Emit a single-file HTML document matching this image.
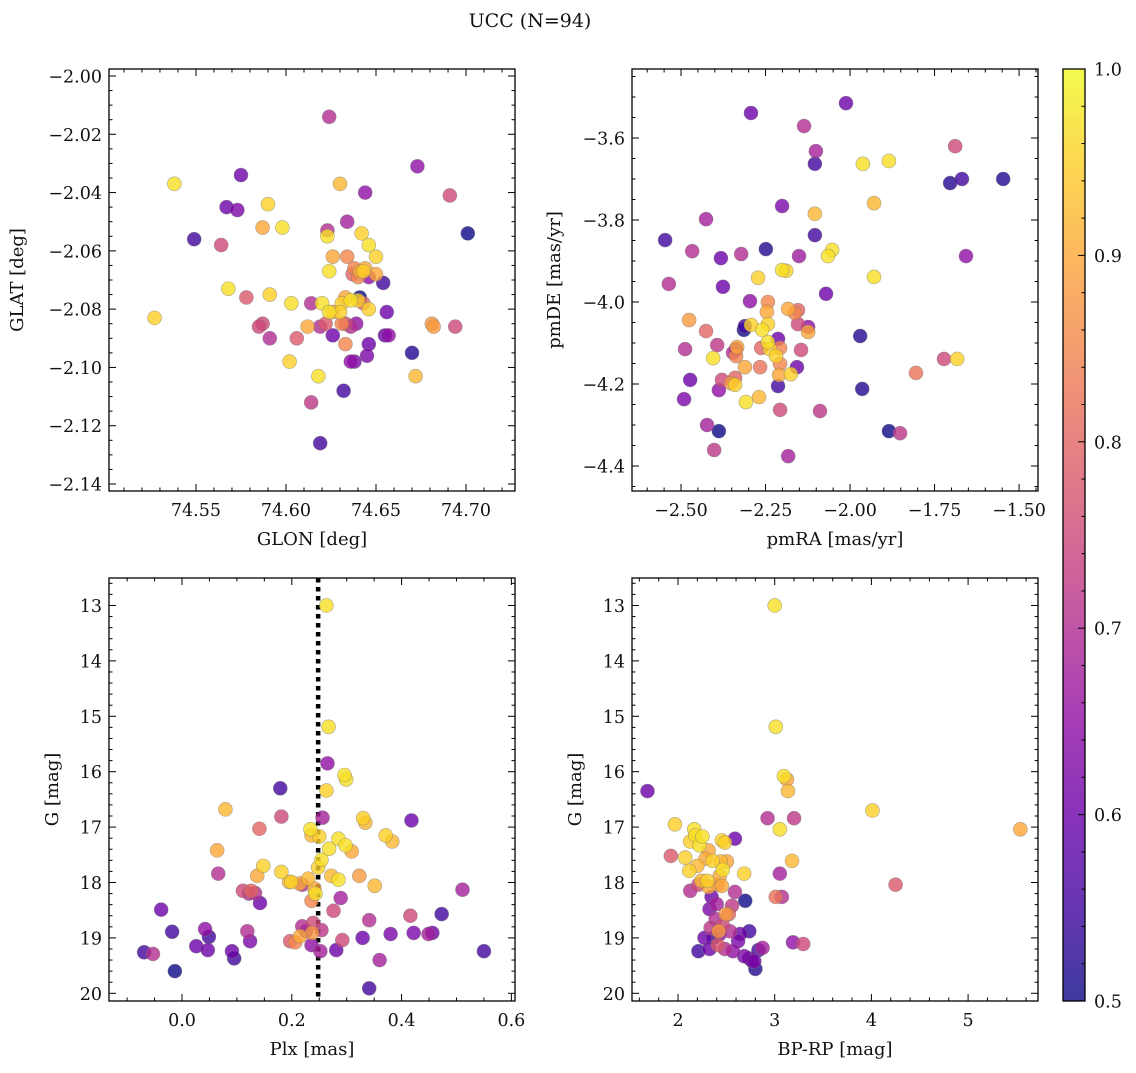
<!DOCTYPE html>
<html><head><meta charset="utf-8"><style>
html,body{margin:0;padding:0;background:#fff;}
svg text{font-family:"DejaVu Serif","Liberation Serif",serif;fill:#111;}
</style></head><body>
<svg id="fig" width="1136" height="1068" viewBox="0 0 1136 1068" xmlns="http://www.w3.org/2000/svg">
<text x="530" y="27" font-size="19" text-anchor="middle">UCC (N=94)</text>
</svg>
<script>
// ---- data ----
const tlGlon=[74.624,74.673,74.691,74.538,74.575,74.567,74.573,74.549,74.564,74.590,74.587,74.598,74.701,74.630,74.644,74.634,74.623,74.623,74.642,74.646,74.650,74.634,74.626,74.624,74.638,74.641,74.644,74.637,74.640,74.643,74.646,74.654,74.650,74.568,74.591,74.578,74.527,74.603,74.620,74.614,74.633,74.636,74.640,74.631,74.624,74.630,74.626,74.641,74.646,74.643,74.656,74.587,74.585,74.591,74.606,74.612,74.619,74.626,74.633,74.636,74.639,74.631,74.622,74.646,74.657,74.681,74.682,74.694,74.633,74.636,74.638,74.645,74.655,74.670,74.602,74.618,74.672,74.632,74.614,74.619];
const tlGlat=[-2.014,-2.031,-2.041,-2.037,-2.034,-2.045,-2.046,-2.056,-2.058,-2.044,-2.052,-2.052,-2.054,-2.037,-2.040,-2.050,-2.053,-2.055,-2.054,-2.058,-2.062,-2.062,-2.062,-2.067,-2.066,-2.067,-2.066,-2.068,-2.069,-2.067,-2.069,-2.071,-2.068,-2.073,-2.075,-2.076,-2.083,-2.078,-2.078,-2.078,-2.076,-2.077,-2.077,-2.078,-2.081,-2.081,-2.081,-2.076,-2.080,-2.078,-2.081,-2.085,-2.086,-2.090,-2.090,-2.086,-2.086,-2.089,-2.085,-2.086,-2.085,-2.085,-2.085,-2.092,-2.089,-2.085,-2.086,-2.086,-2.092,-2.098,-2.098,-2.096,-2.089,-2.095,-2.098,-2.103,-2.103,-2.108,-2.112,-2.126];
const tlProb=[.7,.65,.75,.97,.6,.6,.62,.55,.75,.95,.9,.97,.5,.92,.65,.68,.7,.97,.95,.97,.95,.85,.9,.97,.85,.9,.9,.8,.85,.95,.65,.55,.9,.97,.95,.78,.95,.97,.97,.7,.9,.97,.95,.95,.97,.95,.9,.5,.95,.8,.6,.75,.75,.7,.78,.9,.7,.6,.75,.7,.65,.85,.78,.6,.65,.88,.88,.75,.85,.65,.62,.62,.6,.52,.95,.97,.92,.55,.72,.55];

const trPmra=[-2.293,-2.012,-2.136,-2.101,-2.104,-1.689,-1.885,-1.962,-1.669,-1.704,-1.547,-1.929,-2.547,-2.426,-2.536,-2.467,-2.382,-2.249,-2.201,-2.151,-2.104,-2.104,-2.053,-2.065,-1.657,-1.929,-2.272,-2.189,-2.071,-2.322,-2.376,-2.296,-2.201,-2.243,-2.246,-2.311,-2.314,-2.293,-2.243,-2.260,-2.183,-2.163,-2.154,-2.154,-2.124,-2.213,-2.243,-2.237,-1.970,-2.426,-2.476,-2.393,-2.346,-2.337,-2.334,-2.405,-2.337,-2.263,-2.207,-2.124,-2.219,-2.145,-2.157,-2.207,-2.175,-2.210,-2.311,-2.266,-2.352,-2.340,-2.308,-2.340,-2.379,-2.269,-2.473,-2.491,-2.388,-2.213,-2.207,-2.089,-1.964,-1.722,-1.683,-1.805,-2.423,-2.388,-2.402,-2.183,-1.885,-1.852,-2.488];
const trPmde=[-3.539,-3.515,-3.571,-3.632,-3.663,-3.620,-3.656,-3.663,-3.700,-3.710,-3.700,-3.759,-3.849,-3.798,-3.956,-3.876,-3.893,-3.871,-3.766,-3.888,-3.837,-3.785,-3.873,-3.888,-3.888,-3.939,-3.941,-3.924,-3.980,-3.883,-3.963,-3.998,-3.922,-4.000,-4.024,-4.059,-4.068,-4.056,-4.054,-4.068,-4.017,-4.027,-4.020,-4.054,-4.061,-4.090,-4.098,-4.115,-4.083,-4.071,-4.044,-4.105,-4.124,-4.115,-4.110,-4.137,-4.132,-4.112,-4.112,-4.073,-4.132,-4.117,-4.159,-4.151,-4.176,-4.178,-4.159,-4.159,-4.198,-4.202,-4.244,-4.185,-4.190,-4.232,-4.190,-4.237,-4.215,-4.205,-4.263,-4.266,-4.212,-4.139,-4.139,-4.173,-4.300,-4.315,-4.361,-4.376,-4.315,-4.320,-4.115];
const trProb=[.6,.6,.7,.68,.55,.75,.97,.97,.55,.52,.52,.92,.55,.68,.7,.7,.6,.52,.62,.67,.55,.92,.97,.97,.65,.97,.95,.95,.6,.7,.6,.65,.97,.85,.9,.55,.5,.95,.95,.97,.9,.85,.8,.75,.65,.6,.97,.95,.52,.8,.88,.72,.7,.6,.9,.97,.85,.8,.85,.9,.95,.75,.6,.85,.95,.9,.9,.82,.88,.95,.97,.8,.75,.92,.6,.62,.65,.55,.75,.72,.52,.75,.95,.82,.68,.5,.72,.68,.5,.72,.7];

const blPlx=[.263,.267,.265,.179,.263,.299,.296,.079,.181,.418,.256,.234,.236,.250,.285,.330,.334,.371,.383,.141,.064,.066,.148,.268,.298,.254,.309,.248,.181,.195,.214,.230,.241,.219,.199,.137,.142,.272,.285,.323,.351,.111,.126,.122,.133,.236,.243,.239,.254,.226,.237,.276,.289,.215,.206,.197,.219,.236,.252,.281,.292,.329,.341,.380,.416,.422,.449,.456,.473,.511,.550,.360,.341,-.038,-.018,-.069,-.053,.026,.042,.049,.047,.091,.095,.119,.124,-.013];
const blG=[13.00,15.19,15.85,16.30,16.34,16.14,16.06,16.68,16.81,16.88,16.83,17.04,17.15,17.17,17.21,16.84,16.92,17.15,17.26,17.03,17.42,17.84,17.70,17.39,17.33,17.59,17.44,17.73,17.81,17.99,18.02,17.93,18.11,18.04,17.99,17.88,18.37,17.88,17.95,17.88,18.06,18.15,18.15,18.20,18.19,18.33,18.20,18.73,18.86,18.88,18.91,18.51,18.28,18.97,19.08,19.06,18.79,19.13,19.24,19.22,19.04,19.00,18.68,18.93,18.60,18.91,18.93,18.91,18.57,18.13,19.24,19.40,19.91,18.49,18.89,19.26,19.29,19.15,18.84,18.98,19.22,19.24,19.37,18.88,19.06,19.60];
const blProb=[.97,.97,.65,.55,.95,.97,.97,.92,.75,.6,.68,.97,.92,.95,.97,.95,.92,.95,.92,.8,.9,.7,.95,.97,.97,.97,.9,.95,.95,.92,.9,.92,.9,.7,.95,.9,.6,.92,.97,.88,.92,.75,.8,.7,.7,.85,.97,.75,.72,.65,.88,.75,.68,.9,.85,.78,.7,.65,.68,.6,.75,.6,.7,.62,.75,.62,.68,.6,.55,.68,.55,.68,.55,.6,.55,.55,.7,.6,.65,.55,.6,.6,.55,.7,.62,.5];
const plxLine=0.248;

const brColor=[3.000,1.684,3.011,3.095,3.137,3.126,4.011,5.540,1.968,2.168,2.179,2.221,1.926,2.589,2.253,2.126,2.453,2.484,3.053,2.926,3.200,2.316,2.074,2.200,2.116,2.284,2.505,2.442,2.358,2.463,2.432,2.684,3.053,3.179,2.242,2.316,2.453,2.305,2.411,2.589,2.126,2.211,3.011,3.074,4.250,2.347,2.400,2.495,2.558,2.695,2.326,2.389,2.526,2.432,2.337,2.463,2.368,2.274,2.211,2.326,2.411,2.484,2.421,2.537,2.621,2.642,2.737,2.568,2.684,2.737,2.768,2.832,2.874,2.800,2.789,3.189,3.295];
const brG=[13.00,16.35,15.19,16.08,16.35,16.14,16.70,17.04,16.95,17.04,17.15,17.33,17.52,17.21,17.17,17.26,17.24,17.28,17.04,16.84,16.84,17.42,17.55,17.70,17.79,17.57,17.62,17.62,17.61,17.77,17.88,17.84,17.84,17.61,17.97,18.08,18.06,17.97,18.04,18.17,18.15,18.04,18.26,18.26,18.04,18.26,18.39,18.57,18.42,18.33,18.48,18.66,18.57,18.93,18.82,18.77,19.00,19.00,19.24,19.20,19.13,19.20,18.88,18.88,19.06,18.93,18.88,19.24,19.33,19.37,19.42,19.22,19.18,19.56,19.42,19.08,19.11];
const brProb=[.97,.6,.97,.97,.92,.9,.95,.9,.95,.97,.97,.97,.78,.6,.97,.95,.95,.95,.97,.7,.72,.9,.95,.92,.95,.9,.9,.92,.95,.97,.9,.95,.68,.92,.92,.9,.9,.95,.85,.7,.7,.75,.82,.7,.78,.6,.68,.88,.72,.5,.62,.7,.8,.65,.72,.75,.55,.6,.55,.6,.78,.7,.88,.7,.62,.6,.55,.65,.62,.6,.6,.55,.68,.52,.62,.65,.75];

const cbTicks=[0.5,0.6,0.7,0.8,0.9,1.0];

// ---- rendering ----
const NS='http://www.w3.org/2000/svg';
const svg=document.getElementById('fig');
const plasma=["#0d0887","#41049d","#6a00a8","#8f0da4","#b12a90","#cc4778","#e16462","#f2844b","#fca636","#fcce25","#f0f921"];
function hex(h){return [1,3,5].map(i=>parseInt(h.substr(i,2),16));}
function cmap(p){
  let t=Math.max(0,Math.min(1,(p-0.5)/0.5))*10;
  let i=Math.min(9,Math.floor(t)),f=t-i;
  const a=hex(plasma[i]),b=hex(plasma[i+1]);
  return 'rgb('+a.map((v,k)=>Math.round(v+(b[k]-v)*f)).join(',')+')';
}
function el(tag,attrs,parent){const e=document.createElementNS(NS,tag);for(const k in attrs)e.setAttribute(k,attrs[k]);(parent||svg).appendChild(e);return e;}
function fmt(v,d){return (v<0?'\u2212':'')+Math.abs(v).toFixed(d);}

function panel(cfg){
  const g=el('g',{});
  
  
  const {x0,x1,y0,y1}=cfg.box;
  const sx=v=>x0+(v-cfg.xd[0])/(cfg.xd[1]-cfg.xd[0])*(x1-x0);
  const sy=cfg.yinv?(v=>y0+(v-cfg.yd[0])/(cfg.yd[1]-cfg.yd[0])*(y1-y0)):(v=>y1-(v-cfg.yd[0])/(cfg.yd[1]-cfg.yd[0])*(y1-y0));
  const clip='clip-'+cfg.name;
  const cp=el('clipPath',{id:clip},g);el('rect',{x:x0,y:y0,width:x1-x0,height:y1-y0},cp);
  const pts=el('g',{'clip-path':'url(#'+clip+')'},g);
  
  
  if(cfg.vline!==undefined){
    const ln=el('line',{x1:sx(cfg.vline),x2:sx(cfg.vline),y1:y0,y2:y1,stroke:'#000','stroke-width':4.5,'stroke-dasharray':'4.5 4.5'},pts);
    
    
  }
  const order=cfg.p.map((p,i)=>i).sort((a,b)=>cfg.p[a]-cfg.p[b]);
  order.forEach(i=>{
    const c=el('circle',{cx:sx(cfg.x[i]),cy:sy(cfg.y[i]),r:7,fill:cmap(cfg.p[i]),'fill-opacity':0.8,stroke:'#777','stroke-opacity':0.6,'stroke-width':0.6},pts);
    
    
  });
  el('rect',{x:x0,y:y0,width:x1-x0,height:y1-y0,fill:'none',stroke:'#000','stroke-width':1.3},g);
  const xs=cfg.xt;
  for(let v=Math.ceil(cfg.xd[0]/xs.minor-1e-6)*xs.minor;v<=cfg.xd[1]+1e-9;v+=xs.minor){
    const vv=Math.round(v/xs.minor)*xs.minor;
    const isMaj=Math.abs(vv/xs.major-Math.round(vv/xs.major))<1e-4;
    const L=isMaj?7:3.5,X=sx(vv);
    el('line',{x1:X,x2:X,y1:y1,y2:y1-L,stroke:'#000','stroke-width':1},g);
    el('line',{x1:X,x2:X,y1:y0,y2:y0+L,stroke:'#000','stroke-width':1},g);
    if(isMaj){const t=el('text',{x:X,y:y1+25,'font-size':17.5,'text-anchor':'middle'},g);t.textContent=fmt(vv,xs.dec);
      }
  }
  const ys=cfg.yt;
  for(let v=Math.ceil(cfg.yd[0]/ys.minor-1e-6)*ys.minor;v<=cfg.yd[1]+1e-9;v+=ys.minor){
    const vv=Math.round(v/ys.minor)*ys.minor;
    const isMaj=Math.abs(vv/ys.major-Math.round(vv/ys.major))<1e-4;
    const L=isMaj?7:3.5,Y=sy(vv);
    el('line',{x1:x0,x2:x0+L,y1:Y,y2:Y,stroke:'#000','stroke-width':1},g);
    el('line',{x1:x1,x2:x1-L,y1:Y,y2:Y,stroke:'#000','stroke-width':1},g);
    if(isMaj){const t=el('text',{x:x0-7,y:Y+6.5,'font-size':17.5,'text-anchor':'end'},g);t.textContent=fmt(vv,ys.dec);
      }
  }
  const xl=el('text',{x:(x0+x1)/2,y:cfg.xlY,'font-size':18,'text-anchor':'middle'},g);xl.textContent=cfg.xlabel;
  
  const yl=el('text',{x:0,y:0,'font-size':18,'text-anchor':'middle',transform:'translate('+cfg.ylX+','+(y0+y1)/2+') rotate(-90)'},g);yl.textContent=cfg.ylabel;
  
}

panel({name:'glon-glat-panel',box:{x0:109,x1:515,y0:69,y1:491},xd:[74.5017,74.7272],yd:[-2.1424,-1.9976],
  x:tlGlon,y:tlGlat,p:tlProb,xt:{major:0.05,minor:0.01,dec:2},yt:{major:0.02,minor:0.005,dec:2},
  xlabel:'GLON [deg]',ylabel:'GLAT [deg]',xlY:545,ylX:23});
panel({name:'pm-panel',box:{x0:632,x1:1038,y0:69,y1:491},xd:[-2.645,-1.444],yd:[-4.461,-3.4317],
  x:trPmra,y:trPmde,p:trProb,xt:{major:0.25,minor:0.05,dec:2},yt:{major:0.2,minor:0.05,dec:1},
  xlabel:'pmRA [mas/yr]',ylabel:'pmDE [mas/yr]',xlY:545,ylX:560});
panel({name:'plx-g-panel',box:{x0:109,x1:515,y0:578,y1:1001},xd:[-0.133,0.6066],yd:[12.504,20.139],yinv:true,
  x:blPlx,y:blG,p:blProb,vline:plxLine,xt:{major:0.2,minor:0.05,dec:1},yt:{major:1,minor:0.2,dec:0},
  xlabel:'Plx [mas]',ylabel:'G [mag]',xlY:1055,ylX:58});
panel({name:'cmd-panel',box:{x0:632,x1:1038,y0:578,y1:1001},xd:[1.524,5.723],yd:[12.504,20.139],yinv:true,
  x:brColor,y:brG,p:brProb,xt:{major:1,minor:0.2,dec:0},yt:{major:1,minor:0.2,dec:0},
  xlabel:'BP-RP [mag]',ylabel:'G [mag]',xlY:1055,ylX:581});

// colorbar
const cb=el('g',{});


const defs=el('defs',{},cb);
const lg=el('linearGradient',{id:'cbgrad',x1:0,y1:1,x2:0,y2:0},defs);
plasma.forEach((c,i)=>el('stop',{offset:(i/10),'stop-color':c,'stop-opacity':0.8},lg));
const cbx0=1063,cbx1=1085,cby0=69,cby1=1001;
el('rect',{x:cbx0,y:cby0,width:cbx1-cbx0,height:cby1-cby0,fill:'url(#cbgrad)'},cb);
el('rect',{x:cbx0,y:cby0,width:cbx1-cbx0,height:cby1-cby0,fill:'none',stroke:'#000','stroke-width':1.3},cb);
const cy=v=>cby1-(v-0.5)/0.5*(cby1-cby0);
for(let k=0;k<=25;k++){const v=0.5+k*0.02,Y=cy(v),maj=k%5===0;
  el('line',{x1:cbx1,x2:cbx1-(maj?7:3.5),y1:Y,y2:Y,stroke:'#000','stroke-width':1},cb);}
cbTicks.forEach(v=>{const t=el('text',{x:1094,y:cy(v)+6.5,'font-size':17.5},cb);t.textContent=v.toFixed(1);
  });
</script>
</body></html>
